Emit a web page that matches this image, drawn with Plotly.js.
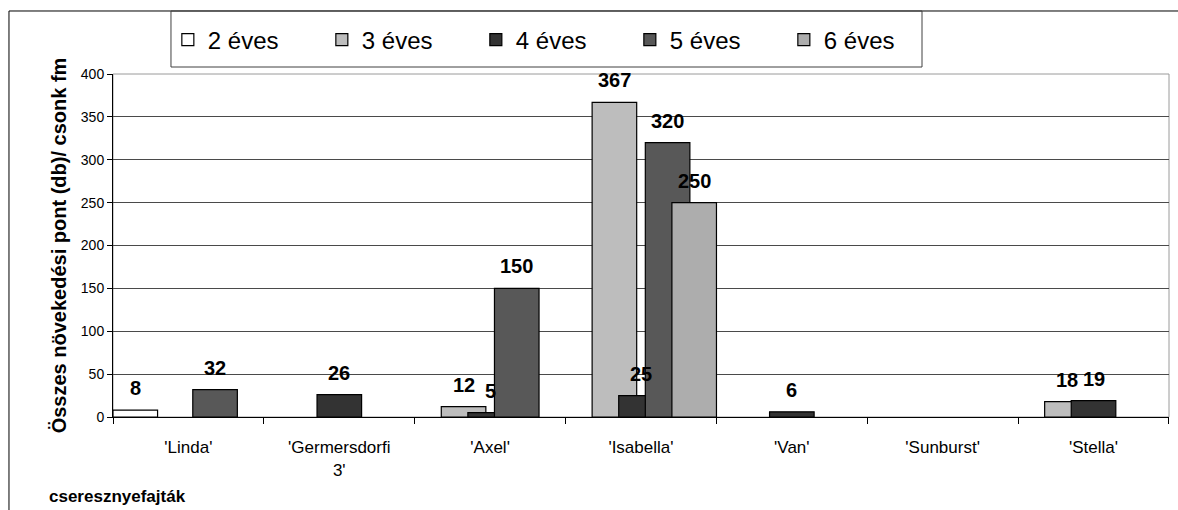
<!DOCTYPE html>
<html>
<head>
<meta charset="utf-8">
<script src="https://cdn.plot.ly/plotly-3.0.1.min.js"></script>
<style>
  html, body { margin: 0; padding: 0; background: #ffffff; }
  #chart { width: 1178px; height: 510px; }
</style>
</head>
<body>
<div id="chart"></div>
<script>
// ---- data ----
const categories = ["'Linda'", "'Germersdorfi<br>3'", "'Axel'", "'Isabella'", "'Van'", "'Sunburst'", "'Stella'"];
const seriesNames = ["2 éves", "3 éves", "4 éves", "5 éves", "6 éves"];
const ev2 = [8, null, null, null, null, null, null];
const ev3 = [null, null, 12, 367, null, null, 18];
const ev4 = [null, 26, 5, 25, 6, null, 19];
const ev5 = [32, null, 150, 320, null, null, null];
const ev6 = [null, null, null, 250, null, null, null];
const yTitle = "Összes növekedési pont (db)/ csonk fm";
const xTitle = "cseresznyefajták";

// ---- styles ----
const seriesValues = [ev2, ev3, ev4, ev5, ev6];
const colors = ["#ffffff", "#bdbdbd", "#333333", "#585858", "#adadad"];
const barWidth = 0.2955;
const barStep = 0.1763;
const FONT = "Liberation Sans, Arial, sans-serif";

const traces = seriesValues.map((vals, i) => ({
  type: "bar",
  name: seriesNames[i],
  x: categories,
  y: vals,
  width: barWidth,
  offset: -0.5 + i * barStep,
  marker: { color: colors[i], line: { color: "#000000", width: 1.2 } },
  hoverinfo: "skip"
}));

// data labels (annotations placed over each bar)
const annotations = [];
seriesValues.forEach((vals, i) => {
  vals.forEach((v, c) => {
    if (v === null || v === undefined) return;
    annotations.push({
      x: c - 0.5 + i * barStep + barWidth / 2,
      y: v,
      xref: "x", yref: "y",
      text: "<b>" + String(v) + "</b>",
      showarrow: false,
      yanchor: "bottom",
      yshift: 9,
      font: { family: FONT, size: 20, color: "#000000" }
    });
  });
});

annotations.push({
  xref: "paper", yref: "paper",
  x: -0.0625, y: -0.233,
  xanchor: "left", yanchor: "middle",
  text: "<b>" + xTitle + "</b>",
  showarrow: false,
  font: { family: FONT, size: 17, color: "#000000" }
});

const shapes = [
  // plot area border
  { type: "rect", xref: "paper", yref: "paper", x0: 0, x1: 1, y0: 0, y1: 1,
    line: { color: "#9a9a9a", width: 1 }, layer: "below" },
  // outer chart frame (left & top edges)
  { type: "line", xref: "paper", yref: "paper", x0: -0.0985, x1: -0.0985, y0: -0.5, y1: 1.1837,
    line: { color: "#000000", width: 1 } },
  { type: "line", xref: "paper", yref: "paper", x0: -0.0985, x1: 1.2, y0: 1.1837, y1: 1.1837,
    line: { color: "#000000", width: 1 } },
  // legend box
  { type: "rect", xref: "paper", yref: "paper", x0: 0.0549, x1: 0.7661, y0: 1.0204, y1: 1.1837,
    line: { color: "#404040", width: 1 }, fillcolor: "rgba(0,0,0,0)" }
];

const layout = {
  width: 1178, height: 510,
  margin: { l: 113, r: 9, t: 74, b: 93, pad: 0 },
  paper_bgcolor: "#ffffff",
  plot_bgcolor: "#ffffff",
  barmode: "overlay",
  font: { family: FONT, color: "#000000" },
  showlegend: true,
  legend: {
    orientation: "h",
    x: 0.0633, y: 1.099, xanchor: "left", yanchor: "middle",
    bgcolor: "rgba(0,0,0,0)", borderwidth: 0,
    entrywidth: 121, entrywidthmode: "pixels",
    indentation: -12,
    font: { family: FONT, size: 24, color: "#000000" },
    traceorder: "normal"
  },
  xaxis: {
    type: "category",
    showgrid: false,
    showline: true, linecolor: "#000000", linewidth: 1,
    ticks: "outside", ticklen: 6, tickcolor: "#000000",
    tickson: "boundaries",
    ticklabelstandoff: 15,
    tickfont: { family: FONT, size: 17, color: "#000000" },
    automargin: false,
    fixedrange: true
  },
  yaxis: {
    range: [0, 400],
    dtick: 50,
    tick0: 0,
    showgrid: true, gridcolor: "#4a4a4a", gridwidth: 1,
    zeroline: false,
    showline: true, linecolor: "#000000", linewidth: 1,
    ticks: "outside", ticklen: 5, tickcolor: "#000000",
    tickfont: { family: FONT, size: 14, color: "#000000" },
    title: { text: "<b>" + yTitle + "</b>", standoff: 8,
             font: { family: FONT, size: 20, color: "#000000" } },
    automargin: false,
    fixedrange: true
  },
  annotations: annotations,
  shapes: shapes
};

Plotly.newPlot("chart", traces, layout, { displayModeBar: false, staticPlot: true });
</script>
</body>
</html>
